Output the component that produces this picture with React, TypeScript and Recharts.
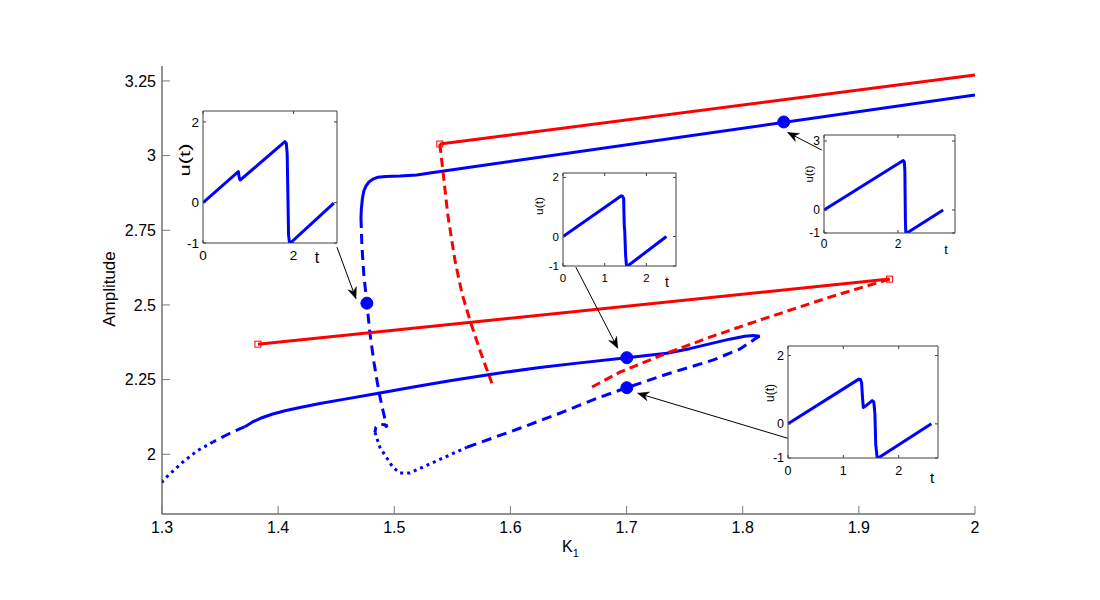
import React from 'react';
import { LineChart, Line, XAxis, YAxis } from 'recharts';

const FONT = '"Liberation Sans", Arial, Helvetica, sans-serif';
const BLUE = '#0000ff';
const RED = '#ff0000';
const AXIS = '#262626';
const TICK = '#7a7a7a';

// ---------- main axes ----------
const K1_DOMAIN = [1.3, 2.0];
const AMP_DOMAIN = [1.8, 3.3];
const K1_TICKS = [1.3, 1.4, 1.5, 1.6, 1.7, 1.8, 1.9, 2.0];
const K1_TICK_LABELS = ['1.3', '1.4', '1.5', '1.6', '1.7', '1.8', '1.9', '2'];
const AMP_TICKS = [2, 2.25, 2.5, 2.75, 3, 3.25];
const AMP_TICK_LABELS = ['2', '2.25', '2.5', '2.75', '3', '3.25'];

// ---------- main branches (K1, amplitude) ----------
const BLUE_UPPER_SOLID = [
  { x: 1.4713, y: 2.7909 }, { x: 1.4717, y: 2.8244 }, { x: 1.4726, y: 2.8579 },
  { x: 1.4738, y: 2.8814 }, { x: 1.4756, y: 2.8981 }, { x: 1.4781, y: 2.9115 },
  { x: 1.4816, y: 2.9216 }, { x: 1.4859, y: 2.9273 }, { x: 1.4928, y: 2.9300 },
  { x: 1.5048, y: 2.9316 }, { x: 1.5194, y: 2.9350 }, { x: 1.5306, y: 2.9417 },
  { x: 2.0, y: 3.2031 },
];
const BLUE_UPPER_DASHED = [
  { x: 1.4713, y: 2.7909 }, { x: 1.4721, y: 2.7004 }, { x: 1.4738, y: 2.5999 },
  { x: 1.4764, y: 2.5060 }, { x: 1.4790, y: 2.4055 }, { x: 1.4825, y: 2.3083 },
  { x: 1.4868, y: 2.2078 }, { x: 1.4902, y: 2.1475 }, { x: 1.4936, y: 2.0905 },
  { x: 1.4919, y: 2.0989 }, { x: 1.4876, y: 2.1005 }, { x: 1.4842, y: 2.0905 },
  { x: 1.4833, y: 2.0737 },
];
const BLUE_BOTTOM_DOTTED = [
  { x: 1.4833, y: 2.0737 }, { x: 1.4876, y: 2.0235 }, { x: 1.4988, y: 1.9564 },
  { x: 1.5048, y: 1.9373 }, { x: 1.5134, y: 1.9373 }, { x: 1.5280, y: 1.9631 },
  { x: 1.5625, y: 2.0235 },
];
const BLUE_LOWER_DASHED = [
  { x: 1.5625, y: 2.0235 }, { x: 1.6081, y: 2.0871 }, { x: 1.6425, y: 2.1374 },
  { x: 1.6597, y: 2.1642 }, { x: 1.6769, y: 2.1910 }, { x: 1.7002, y: 2.2229 },
  { x: 1.7372, y: 2.2714 }, { x: 1.7742, y: 2.3150 }, { x: 1.7974, y: 2.3519 },
  { x: 1.8077, y: 2.3787 }, { x: 1.8129, y: 2.3921 }, { x: 1.8146, y: 2.3954 },
];
const BLUE_LOWER_SOLID = [
  { x: 1.8146, y: 2.3954 }, { x: 1.8094, y: 2.3978 }, { x: 1.8017, y: 2.3954 },
  { x: 1.7888, y: 2.3854 }, { x: 1.7742, y: 2.3720 }, { x: 1.7544, y: 2.3536 },
  { x: 1.7346, y: 2.3385 }, { x: 1.7002, y: 2.3234 }, { x: 1.6597, y: 2.3060 },
  { x: 1.6253, y: 2.2906 }, { x: 1.5866, y: 2.2698 }, { x: 1.5478, y: 2.2463 },
  { x: 1.5177, y: 2.2259 }, { x: 1.4876, y: 2.2054 }, { x: 1.4575, y: 2.1847 },
  { x: 1.4360, y: 2.1699 }, { x: 1.4188, y: 2.1568 }, { x: 1.4059, y: 2.1458 },
  { x: 1.3947, y: 2.1340 }, { x: 1.3861, y: 2.1223 }, { x: 1.3783, y: 2.1089 },
  { x: 1.3714, y: 2.0922 },
];
const BLUE_LEFT_DASHED = [
  { x: 1.3714, y: 2.0922 }, { x: 1.3585, y: 2.0704 }, { x: 1.3439, y: 2.0412 },
];
const BLUE_LEFT_DOTTED = [
  { x: 1.3439, y: 2.0412 }, { x: 1.3301, y: 2.0111 }, { x: 1.3181, y: 1.9742 },
  { x: 1.3009, y: 1.9129 }, { x: 1.3, y: 1.9050 },
];
const RED_UPPER_SOLID = [{ x: 1.5392, y: 3.0389 }, { x: 2.0, y: 3.2701 }];
const RED_UPPER_DASHED = [
  { x: 1.5392, y: 3.0389 }, { x: 1.5418, y: 2.9517 }, { x: 1.5461, y: 2.8009 },
  { x: 1.5522, y: 2.6501 }, { x: 1.5582, y: 2.5395 }, { x: 1.5651, y: 2.4491 },
  { x: 1.5737, y: 2.3485 }, { x: 1.5840, y: 2.2379 },
];
const RED_LOWER_SOLID = [{ x: 1.3826, y: 2.3686 }, { x: 1.9265, y: 2.5865 }];
const RED_LOWER_DASHED = [
  { x: 1.9265, y: 2.5865 }, { x: 1.8749, y: 2.5261 }, { x: 1.8146, y: 2.4491 },
  { x: 1.7742, y: 2.3954 }, { x: 1.7346, y: 2.3385 }, { x: 1.6942, y: 2.2748 },
  { x: 1.6683, y: 2.2212 },
];
const BLUE_POINTS = [
  { x: 1.4764, y: 2.5060 }, { x: 1.7002, y: 2.3234 }, { x: 1.7002, y: 2.2229 }, { x: 1.8353, y: 3.1126 },
];
const RED_SQUARES = [
  { x: 1.5392, y: 3.0389 }, { x: 1.3826, y: 2.3686 }, { x: 1.9265, y: 2.5865 },
];
const ARROW_A = [{ x: 1.4506, y: 2.6937 }, { x: 1.4670, y: 2.5211 }];
const ARROW_B = [{ x: 1.6563, y: 2.6267 }, { x: 1.6924, y: 2.3552 }];
const ARROW_C = [{ x: 1.8680, y: 3.0188 }, { x: 1.8387, y: 3.0774 }];
const ARROW_D = [{ x: 1.8387, y: 2.0536 }, { x: 1.7096, y: 2.2044 }];

// ---------- insets u(t) ----------
const INSET_A_T = [0, 0.78, 0.80, 0.82, 1.81, 1.84, 1.86, 1.875, 1.89, 1.91, 1.93, 2.89];
const INSET_A_U = [0, 0.77, 0.62, 0.56, 1.51, 1.47, 1.20, 0.20, -0.80, -0.99, -1.0, -0.01];
const INSET_B_T = [0, 1.40, 1.43, 1.455, 1.46, 1.47, 1.48, 1.50, 1.52, 1.55, 2.48];
const INSET_B_U = [0, 1.38, 1.36, 1.28, 0.9, 0.36, 0.2, -0.6, -0.96, -1.0, 0.0];
const INSET_C_T = [0, 2.14, 2.17, 2.185, 2.20, 2.21, 2.24, 3.22];
const INSET_C_U = [0, 2.15, 2.10, 1.7, -0.5, -0.97, -1.0, 0.0];
const INSET_D_T = [0, 1.28, 1.31, 1.33, 1.345, 1.36, 1.40, 1.52, 1.55, 1.57, 1.585, 1.61, 1.63, 2.59];
const INSET_D_U = [0, 1.31, 1.30, 1.2, 0.8, 0.48, 0.52, 0.68, 0.64, 0.3, -0.6, -0.98, -1.0, 0.0];

const zipTU = (t: number[], u: number[]) => t.map((v, i) => ({ t: v, u: u[i] }));

// ---------- layout ----------
const M_TOP = 66, M_RIGHT = 125, M_BOTTOM = 56, M_LEFT = 102, Y_W = 60, X_H = 30;
const PLOT_W = 1100 - M_LEFT - Y_W - M_RIGHT;
const PLOT_H = 600 - M_TOP - M_BOTTOM - X_H;
const PX_X = PLOT_W / (K1_DOMAIN[1] - K1_DOMAIN[0]);
const PX_Y = PLOT_H / (AMP_DOMAIN[1] - AMP_DOMAIN[0]);

const labelFor = (ticks: number[], labels: string[], v: number) => {
  const i = ticks.findIndex((t) => Math.abs(t - v) < 1e-6);
  return i >= 0 ? labels[i] : String(v);
};

const MainXTick = (p: any) => {
  const { x, y, payload } = p;
  return (
    <g>
      <line x1={x} x2={x} y1={y} y2={y - 8} stroke={TICK} strokeWidth={1} />
      <text x={x} y={y + 19} textAnchor="middle" fontSize={16} fontFamily={FONT} fill="#000">
        {labelFor(K1_TICKS, K1_TICK_LABELS, payload.value)}
      </text>
    </g>
  );
};
const MainYTick = (p: any) => {
  const { x, y, payload } = p;
  return (
    <g>
      <line x1={x} x2={x + 8} y1={y} y2={y} stroke={TICK} strokeWidth={1} />
      <text x={x - 6} y={y} dy="0.35em" textAnchor="end" fontSize={16} fontFamily={FONT} fill="#000">
        {labelFor(AMP_TICKS, AMP_TICK_LABELS, payload.value)}
      </text>
    </g>
  );
};

const K1Label = (p: any) => {
  const vb = p.viewBox || { x: 162, y: 514, width: 813, height: 30 };
  const cx = vb.x + vb.width / 2 + 2;
  return (
    <text x={cx} y={vb.y + 38} textAnchor="middle" fontSize={16} fontFamily={FONT} fill="#000">
      K<tspan fontSize={11} dy={5}>1</tspan>
    </text>
  );
};
const AmpLabel = (p: any) => {
  const vb = p.viewBox || { x: 102, y: 66, width: 60, height: 448 };
  const x = vb.x + vb.width - 47;
  const y = vb.y + vb.height / 2 - 1;
  return (
    <text x={x} y={y} transform={`rotate(-90, ${x}, ${y})`} textAnchor="middle" fontSize={17} fontFamily={FONT} fill="#000">
      Amplitude
    </text>
  );
};

function makeArrowHead(seg: { x: number; y: number }[]) {
  return (p: any) => {
    const { cx, cy, index, points } = p;
    if (index !== seg.length - 1 || cx == null || cy == null) return <g key={`n${index}`} />;
    let sx: number, sy: number;
    if (points && points.length >= 2 && points[0].x != null) {
      sx = points[0].x; sy = points[0].y;
    } else {
      sx = cx - (seg[1].x - seg[0].x) * PX_X;
      sy = cy + (seg[1].y - seg[0].y) * PX_Y;
    }
    const dx = cx - sx, dy = cy - sy;
    const L = Math.hypot(dx, dy) || 1;
    const ux = dx / L, uy = dy / L, nx = -uy, ny = ux;
    const len = 11, half = 4.5, notch = 7.5;
    const bx = cx - ux * len, by = cy - uy * len;
    const d = `M${cx},${cy} L${bx + nx * half},${by + ny * half} L${cx - ux * notch},${cy - uy * notch} L${bx - nx * half},${by - ny * half} Z`;
    return <path key={`a${index}`} d={d} fill="#000" stroke="#000" strokeWidth={0.5} />;
  };
}

const BlueDot = (p: any) =>
  p.cx == null ? <g key={`b${p.index}`} /> : <circle key={`b${p.index}`} cx={p.cx} cy={p.cy} r={6} fill={BLUE} stroke={BLUE} />;
const RedSquare = (p: any) =>
  p.cx == null ? <g key={`r${p.index}`} /> : (
    <rect key={`r${p.index}`} x={p.cx - 3} y={p.cy - 3} width={6} height={6} fill="none" stroke={RED} strokeWidth={1} />
  );

// ---------- inset ----------
type InsetCfg = {
  box: { left: number; top: number; width: number; height: number };
  xDomain: number[]; yDomain: number[]; xTicks: number[]; yTicks: number[];
  t: number[]; u: number[];
  fs: number; xLblDy: number; tFs: number; tDx: number; tDy: number;
  uFs: number; uLen: number; uDx: number; uDy: number;
};

const INSETS: InsetCfg[] = [
  { box: { left: 203, top: 111, width: 134, height: 132 }, xDomain: [0, 2.96], yDomain: [-1, 2.27],
    xTicks: [0, 2], yTicks: [-1, 0, 2], t: INSET_A_T, u: INSET_A_U,
    fs: 13.5, xLblDy: 17, tFs: 16, tDx: 20, tDy: 20, uFs: 14, uLen: 33, uDx: 13, uDy: 49 },
  { box: { left: 563, top: 173, width: 113, height: 93 }, xDomain: [0, 2.71], yDomain: [-1, 2.15],
    xTicks: [0, 1, 2], yTicks: [-1, 0, 2], t: INSET_B_T, u: INSET_B_U,
    fs: 11.5, xLblDy: 16, tFs: 14, tDx: 9, tDy: 21, uFs: 11, uLen: 18, uDx: 20, uDy: 33 },
  { box: { left: 824, top: 135, width: 131, height: 98 }, xDomain: [0, 3.54], yDomain: [-1, 3.26],
    xTicks: [0, 2], yTicks: [-1, 0, 3], t: INSET_C_T, u: INSET_C_U,
    fs: 12, xLblDy: 15, tFs: 13, tDx: 9, tDy: 21, uFs: 11, uLen: 17, uDx: 11, uDy: 39 },
  { box: { left: 788, top: 346, width: 150, height: 112 }, xDomain: [0, 2.71], yDomain: [-1, 2.28],
    xTicks: [0, 1, 2], yTicks: [-1, 0, 2], t: INSET_D_T, u: INSET_D_U,
    fs: 12.5, xLblDy: 17, tFs: 15, tDx: 6, tDy: 25, uFs: 12, uLen: 18, uDx: 14, uDy: 47 },
];

const BOX = '#404040';
const IN_ML = 50, IN_MT = 15, IN_MR = 25, IN_MB = 35;

function Inset({ cfg }: { cfg: InsetCfg }) {
  const { box } = cfg;
  const data = zipTU(cfg.t, cfg.u);
  const fmt = (v: number) => (Math.abs(v) < 1e-9 ? '0' : String(v));
  const bottomTick = (p: any) => (
    <g>
      <line x1={p.x} x2={p.x} y1={p.y} y2={p.y - 3} stroke={BOX} />
      <text x={p.x} y={p.y + cfg.xLblDy} textAnchor="middle" fontSize={cfg.fs} fontFamily={FONT} fill="#000">{fmt(p.payload.value)}</text>
    </g>
  );
  const topTick = (p: any) => <line x1={p.x} x2={p.x} y1={p.y} y2={p.y + 3} stroke={BOX} />;
  const leftTick = (p: any) => (
    <g>
      <line x1={p.x} x2={p.x + 3} y1={p.y} y2={p.y} stroke={BOX} />
      <text x={p.x - 4} y={p.y} dy="0.35em" textAnchor="end" fontSize={cfg.fs} fontFamily={FONT} fill="#000">{fmt(p.payload.value)}</text>
    </g>
  );
  const rightTick = (p: any) => <line x1={p.x} x2={p.x - 3} y1={p.y} y2={p.y} stroke={BOX} />;
  const tLabel = (p: any) => {
    const vb = p.viewBox || { x: IN_ML, y: IN_MT + box.height, width: box.width, height: 20 };
    return (
      <text x={vb.x + vb.width - cfg.tDx} y={vb.y + cfg.tDy} textAnchor="middle" fontSize={cfg.tFs} fontFamily={FONT} fill="#000">t</text>
    );
  };
  const uLabel = (p: any) => {
    const vb = p.viewBox || { x: IN_ML - 30, y: IN_MT, width: 30, height: box.height };
    const x = vb.x + vb.width - cfg.uDx;
    const y = vb.y + cfg.uDy;
    return (
      <text x={x} y={y} transform={`rotate(-90, ${x}, ${y})`} textAnchor="middle" fontSize={cfg.uFs}
        textLength={cfg.uLen} lengthAdjust="spacingAndGlyphs" fontFamily={FONT} fill="#000">u(t)</text>
    );
  };
  return (
    <div style={{ position: 'absolute', left: box.left - IN_ML, top: box.top - IN_MT }}>
      <LineChart width={box.width + IN_ML + IN_MR} height={box.height + IN_MT + IN_MB}
        margin={{ top: IN_MT - 5, right: IN_MR - 5, bottom: IN_MB - 20, left: IN_ML - 30 }}>
        <XAxis type="number" dataKey="t" domain={cfg.xDomain} ticks={cfg.xTicks} interval={0} allowDataOverflow
          height={20} tickLine={false} tickSize={0} tickMargin={0} axisLine={{ stroke: BOX }} tick={bottomTick}
          label={{ content: tLabel }} />
        <XAxis xAxisId="top" orientation="top" type="number" dataKey="t" domain={cfg.xDomain} ticks={cfg.xTicks}
          interval={0} allowDataOverflow height={5} tickLine={false} tickSize={0} tickMargin={0}
          axisLine={{ stroke: BOX }} tick={topTick} />
        <YAxis type="number" domain={cfg.yDomain} ticks={cfg.yTicks} interval={0} allowDataOverflow width={30}
          tickLine={false} tickSize={0} tickMargin={0} axisLine={{ stroke: BOX }} tick={leftTick}
          label={{ content: uLabel }} />
        <YAxis yAxisId="right" orientation="right" type="number" domain={cfg.yDomain} ticks={cfg.yTicks}
          interval={0} allowDataOverflow width={5} tickLine={false} tickSize={0} tickMargin={0}
          axisLine={{ stroke: BOX }} tick={rightTick} />
        <Line data={data} dataKey="u" type="linear" stroke={BLUE} strokeWidth={3} dot={false}
          activeDot={false} isAnimationActive={false} strokeLinejoin="round" />
      </LineChart>
    </div>
  );
}

export default function App() {
  const common = { type: 'linear' as const, dot: false, activeDot: false, isAnimationActive: false, dataKey: 'y' };
  return (
    <div style={{ position: 'absolute', left: 0, top: 0, width: 1100, height: 600, background: '#fff' }}>
      <LineChart width={1100} height={600} margin={{ top: M_TOP, right: M_RIGHT, bottom: M_BOTTOM, left: M_LEFT }}>
        <XAxis type="number" dataKey="x" domain={K1_DOMAIN} ticks={K1_TICKS} interval={0} allowDataOverflow
          height={X_H} tickLine={false} tickSize={0} tickMargin={0} axisLine={{ stroke: AXIS }}
          tick={MainXTick} label={{ content: K1Label }} />
        <YAxis type="number" domain={AMP_DOMAIN} ticks={AMP_TICKS} interval={0} allowDataOverflow width={Y_W}
          tickLine={false} tickSize={0} tickMargin={0} axisLine={{ stroke: AXIS }}
          tick={MainYTick} label={{ content: AmpLabel }} />

        <Line {...common} data={BLUE_UPPER_SOLID} stroke={BLUE} strokeWidth={3} />
        <Line {...common} data={BLUE_UPPER_DASHED} stroke={BLUE} strokeWidth={3} strokeDasharray="10 6" />
        <Line {...common} data={BLUE_BOTTOM_DOTTED} stroke={BLUE} strokeWidth={3} strokeDasharray="3 4" />
        <Line {...common} data={BLUE_LOWER_DASHED} stroke={BLUE} strokeWidth={3} strokeDasharray="10 6" />
        <Line {...common} data={BLUE_LOWER_SOLID} stroke={BLUE} strokeWidth={3} strokeLinejoin="round" />
        <Line {...common} data={BLUE_LEFT_DASHED} stroke={BLUE} strokeWidth={3} strokeDasharray="10 6" />
        <Line {...common} data={BLUE_LEFT_DOTTED} stroke={BLUE} strokeWidth={3} strokeDasharray="3 4" />

        <Line {...common} data={RED_UPPER_SOLID} stroke={RED} strokeWidth={3} />
        <Line {...common} data={RED_UPPER_DASHED} stroke={RED} strokeWidth={3} strokeDasharray="9 5" />
        <Line {...common} data={RED_LOWER_SOLID} stroke={RED} strokeWidth={3} />
        <Line {...common} data={RED_LOWER_DASHED} stroke={RED} strokeWidth={3} strokeDasharray="9 5" />

        <Line {...common} data={ARROW_A} stroke="#000" strokeWidth={1} dot={makeArrowHead(ARROW_A)} />
        <Line {...common} data={ARROW_B} stroke="#000" strokeWidth={1} dot={makeArrowHead(ARROW_B)} />
        <Line {...common} data={ARROW_C} stroke="#000" strokeWidth={1} dot={makeArrowHead(ARROW_C)} />
        <Line {...common} data={ARROW_D} stroke="#000" strokeWidth={1} dot={makeArrowHead(ARROW_D)} />

        <Line {...common} data={RED_SQUARES} stroke="none" dot={RedSquare} />
        <Line {...common} data={BLUE_POINTS} stroke="none" dot={BlueDot} />
      </LineChart>
      {INSETS.map((cfg, i) => (
        <Inset key={i} cfg={cfg} />
      ))}
    </div>
  );
}
